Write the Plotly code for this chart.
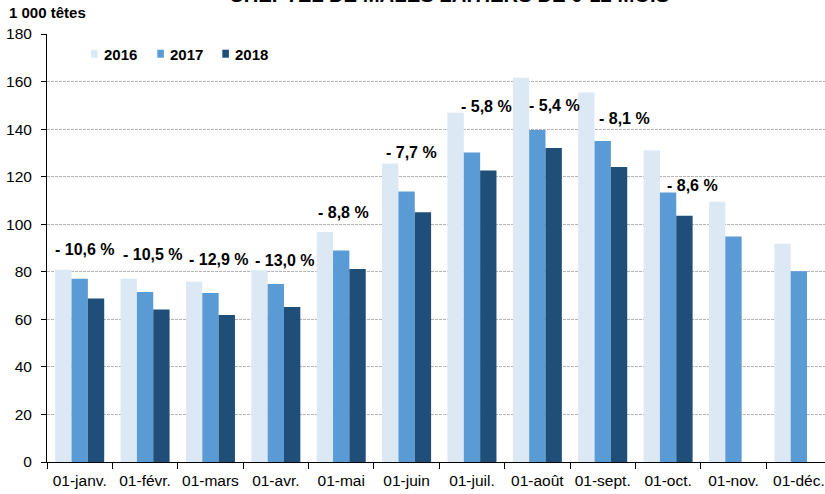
import plotly.graph_objects as go

categories = ["01-janv.", "01-févr.", "01-mars", "01-avr.", "01-mai", "01-juin",
              "01-juil.", "01-août", "01-sept.", "01-oct.", "01-nov.", "01-déc."]
v2016 = [80.9, 77.1, 75.8, 80.6, 96.7, 125.5, 146.9, 161.6, 155.4, 131.0, 109.5, 91.8]
v2017 = [77.1, 71.5, 71.1, 74.9, 89.0, 113.8, 130.2, 139.6, 135.0, 113.3, 94.8, 80.2]
v2018 = [68.8, 64.1, 61.8, 65.2, 81.2, 105.0, 122.6, 132.1, 124.1, 103.6, None, None]
pct_labels = ["- 10,6 %", "- 10,5 %", "- 12,9 %", "- 13,0 %", "- 8,8 %",
              "- 7,7 %", "- 5,8 %", "- 5,4 %", "- 8,1 %", "- 8,6 %"]
series_names = ["2016", "2017", "2018"]

# layout-only helpers (label placement)
label_y = [89.3, 87.2, 85.1, 84.7, 105.0, 130.1, 149.6, 149.9, 144.4, 116.2]
label_dx = [5.6, 7.7, 8.8, 9.1, 1.8, 4.6, 14.3, 16.9, 22.2, 24.8]
colors = ["#DCE8F4", "#5B9BD5", "#1F4E79"]
FONT = "Liberation Sans, Arial, sans-serif"

fig = go.Figure()
for name, vals, col in zip(series_names, [v2016, v2017, v2018], colors):
    fig.add_trace(go.Bar(x=categories, y=vals, name=name,
                         marker=dict(color=col, line=dict(width=0)),
                         showlegend=False))

annotations = []
for i, (txt, ly, dx) in enumerate(zip(pct_labels, label_y, label_dx)):
    annotations.append(dict(x=i, y=ly, xref="x", yref="y", text=txt, showarrow=False,
                            xshift=dx, xanchor="center", yanchor="middle",
                            font=dict(family=FONT, size=16, color="#000000", weight="bold")))

# title (cut at top of the picture, as in the reference)
annotations.append(dict(x=0.5169, y=1, xref="paper", yref="paper", yshift=39.8,
                        text="CHEPTEL DE MÂLES LAITIERS DE 0-12 MOIS", showarrow=False,
                        xanchor="center", yanchor="middle",
                        font=dict(family=FONT, size=20.3, color="#000000", weight="bold")))
# unit label
annotations.append(dict(x=0, y=1, xref="paper", yref="paper", xshift=-39.7, yshift=21.8,
                        text="1 000 têtes", showarrow=False, xanchor="left", yanchor="middle",
                        font=dict(family=FONT, size=15, color="#000000", weight="bold")))

shapes = []
leg_x = [44.0, 110.3, 175.3]
for k, (name, col) in enumerate(zip(series_names, colors)):
    shapes.append(dict(type="rect", xref="paper", yref="paper", xsizemode="pixel", ysizemode="pixel",
                       xanchor=0, yanchor=1, x0=leg_x[k], x1=leg_x[k] + 6.6, y0=-23.7, y1=-15.7,
                       fillcolor=col, line=dict(width=0)))
    annotations.append(dict(x=0, y=1, xref="paper", yref="paper", xshift=leg_x[k] + 10.5, yshift=-20.5,
                            text=name, showarrow=False, xanchor="left", yanchor="middle",
                            font=dict(family=FONT, size=15, color="#000000", weight="bold")))

fig.update_layout(
    width=825, height=494,
    margin=dict(l=46.7, r=0, t=34.3, b=31.7, autoexpand=False),
    paper_bgcolor="white", plot_bgcolor="white",
    barmode="group", bargap=0.25, bargroupgap=0,
    font=dict(family=FONT, size=15, color="#000000"),
    annotations=annotations, shapes=shapes,
    showlegend=False,
)
fig.update_xaxes(range=[-0.5, 11.40], showline=True, linecolor="#000000", linewidth=1,
                 ticks="outside", ticklen=6, tickcolor="#000000", tickson="boundaries",
                 showgrid=False, automargin=False, tickangle=0, ticklabelstandoff=4,
                 tickfont=dict(family=FONT, size=15.5, color="#000000"))
fig.update_yaxes(range=[0, 180], dtick=20, showline=True, linecolor="#000000", linewidth=1,
                 ticks="outside", ticklen=5, tickcolor="#000000", automargin=False,
                 showgrid=True, gridcolor="#B4B4B4", gridwidth=1, griddash="3px,1px",
                 zeroline=False, ticklabelstandoff=6,
                 tickfont=dict(family=FONT, size=15.5, color="#000000"))

fig.write_html("out.html", config={"displayModeBar": False},
               post_script="document.body.style.margin='0';document.body.style.padding='0';")
